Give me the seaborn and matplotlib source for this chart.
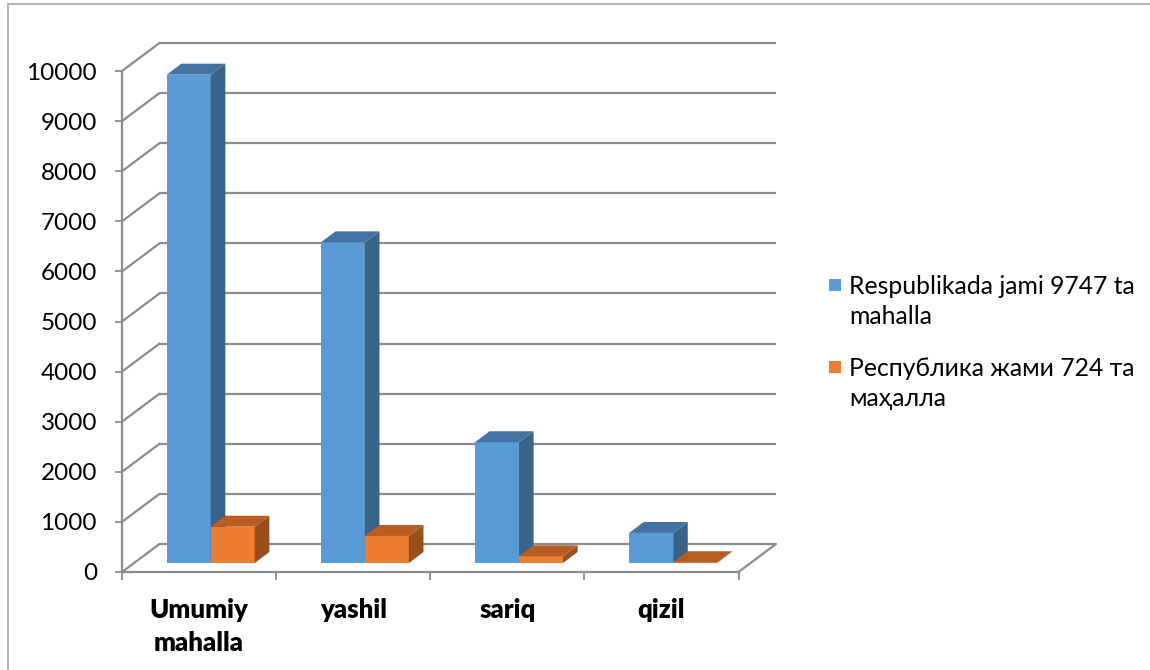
import matplotlib
matplotlib.use("Agg")
import numpy as np
import pandas as pd
import matplotlib.pyplot as plt
import seaborn as sns
from matplotlib.patches import Polygon, Rectangle
from matplotlib.lines import Line2D
from matplotlib.ticker import FixedLocator

# ---------------- data ----------------
categories = ["Umumiy\nmahalla", "yashil", "sariq", "qizil"]
series_names = ["Respublikada jami 9747 ta\nmahalla", "Республика жами 724 та\nмаҳалла"]
respublika_values = [9747, 6400, 2410, 600]
viloyat_values = [724, 540, 133, 15]
y_ticks = list(range(0, 10001, 1000))

front_colors = ["#5B9BD5", "#ED7D31"]
top_colors = ["#4473A3", "#B85C22"]
side_colors = ["#3A6389", "#9A4E1C"]
grid_color = "#8C8C8C"

df = pd.DataFrame({
    "category": categories * 2,
    "series": [series_names[0]] * len(categories) + [series_names[1]] * len(categories),
    "value": respublika_values + viloyat_values,
})

sns.set_theme(style="white")
plt.rcParams["font.family"] = ["Lato", "Open Sans", "DejaVu Sans"]

# ---------------- layout (pixels) ----------------
W, H = 1150, 670
fig = plt.figure(figsize=(11.5, 6.7), dpi=100)
px_left, px_right, px_top, px_bottom = 122, 776, 43, 572
ax = fig.add_axes([px_left / W, 1 - px_bottom / H,
                   (px_right - px_left) / W, (px_bottom - px_top) / H])

px_per_cat = (739 - 122) / 4
px_per_unit = (572 - 71) / 10000


def dx(px):
    return px / px_per_cat


def dy(px):
    return px / px_per_unit


wall_dx, wall_dy = dx(37.5), dy(28)
bar_dx, bar_dy = dx(11.7), dy(9)
depth_dx, depth_dy = dx(14.6), dy(11)

# ---------------- bars ----------------
sns.barplot(data=df, x="category", y="value", hue="series",
            order=categories, hue_order=series_names,
            palette=front_colors, saturation=1, width=0.571, gap=0,
            linewidth=0, legend=False, ax=ax)

for i, cont in enumerate(ax.containers):
    for bar in cont:
        bar.set_x(bar.get_x() + bar_dx)
        bar.set_y(bar.get_y() + bar_dy)
        bar.set_zorder(3 + i)
        x0, y0 = bar.get_x(), bar.get_y()
        x1, y1 = x0 + bar.get_width(), y0 + bar.get_height()
        side = Polygon([(x1, y0), (x1 + depth_dx, y0 + depth_dy),
                        (x1 + depth_dx, y1 + depth_dy), (x1, y1)],
                       closed=True, fc=side_colors[i], ec="none", zorder=3 + i)
        top = Polygon([(x0, y1), (x0 + depth_dx, y1 + depth_dy),
                       (x1 + depth_dx, y1 + depth_dy), (x1, y1)],
                      closed=True, fc=top_colors[i], ec="none", zorder=3 + i)
        ax.add_patch(side)
        ax.add_patch(top)

# ---------------- walls / gridlines ----------------
x_first, x_last = -0.5, len(categories) - 0.5
for v in y_ticks:
    ax.plot([x_first + wall_dx, x_last + wall_dx], [v + wall_dy, v + wall_dy],
            color=grid_color, lw=1.6, zorder=1, clip_on=False, solid_capstyle="butt")
    ax.plot([x_first, x_first + wall_dx], [v, v + wall_dy],
            color=grid_color, lw=1.6, zorder=1, clip_on=False)
# front vertical axis
ax.plot([x_first, x_first], [0, y_ticks[-1]], color=grid_color, lw=1.6, zorder=2, clip_on=False)
# floor
ax.plot([x_first, x_last], [0, 0], color=grid_color, lw=1.6, zorder=2, clip_on=False)
ax.plot([x_last, x_last + wall_dx], [0, wall_dy], color=grid_color, lw=1.6, zorder=2, clip_on=False)

ax.set_xlim(x_first, x_last + wall_dx)
ax.set_ylim(0, y_ticks[-1] + wall_dy)
for s in ax.spines.values():
    s.set_visible(False)
ax.grid(False)

ax.set_yticks(y_ticks)
ax.set_yticklabels([str(v) for v in y_ticks])
ax.tick_params(axis="y", which="major", left=True, length=5, width=1.3,
               color=grid_color, direction="out", pad=13, labelsize=17.5, labelcolor="#000000")

ax.set_xticks(range(len(categories)))
ax.set_xticklabels(categories, fontweight="heavy", linespacing=1.45)
ax.xaxis.set_minor_locator(FixedLocator(np.arange(x_first, x_last + 0.01, 1.0)))
ax.tick_params(axis="x", which="major", bottom=True, length=0, pad=19,
               labelsize=18.5, labelcolor="#000000")
ax.tick_params(axis="x", which="minor", bottom=True, length=6, width=1.3,
               color=grid_color, direction="out")
ax.set_xlabel("")
ax.set_ylabel("")

# ---------------- legend ----------------
legend_rows = [(285, 301.5), (367, 383.5)]
for i, name in enumerate(series_names):
    sq_y, txt_y = legend_rows[i]
    fig.patches.append(Rectangle((829 / W, 1 - (sq_y + 6) / H), 12 / W, 12 / H,
                                 transform=fig.transFigure, fc=front_colors[i], ec="none"))
    fig.text(849 / W, 1 - txt_y / H, name, ha="left", va="center",
             fontsize=17.8, linespacing=1.35, color="#000000")

# chart-area border (top and left edges visible)
fig.add_artist(Line2D([8 / W, 8 / W], [0, 1 - 4 / H], transform=fig.transFigure,
                      color="#A6A6A6", lw=1.2))
fig.add_artist(Line2D([8 / W, 1], [1 - 4 / H, 1 - 4 / H], transform=fig.transFigure,
                      color="#A6A6A6", lw=1.2))

fig.savefig("out.png", dpi=100)
